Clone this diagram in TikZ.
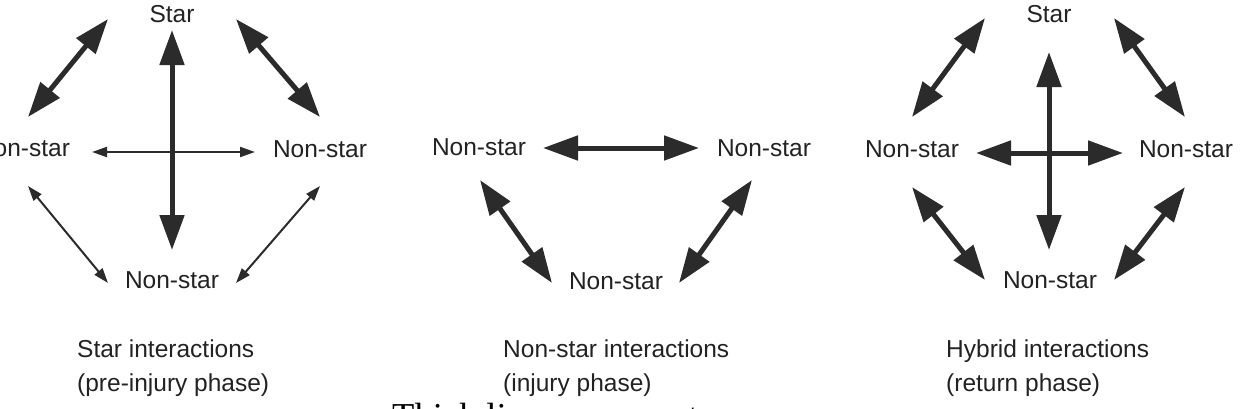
\documentclass[tikz,border=0pt]{standalone}
\usepackage{fontspec}
\setmainfont{Liberation Sans}
\newfontfamily\serifnote{Liberation Serif}
\usetikzlibrary{arrows.meta}
\definecolor{ink}{HTML}{2B2B2B}
\definecolor{txt}{HTML}{222222}
\begin{document}
\begin{tikzpicture}[x=1pt,y=-1pt,
  lbl/.style={inner sep=0pt,anchor=base,text=txt,font=\fontsize{24.5}{28}\selectfont},
  captxt/.style={inner sep=0pt,anchor=base west,text=txt,font=\fontsize{24.5}{28}\selectfont},
  thick arrow/.style={draw=ink,line width=5pt,
    {Triangle[length=35pt,width=24pt]}-{Triangle[length=35pt,width=24pt]}},
  thin arrow/.style={draw=ink,line width=2pt,
    {Triangle[length=15pt,width=10pt]}-{Triangle[length=15pt,width=10pt]}}]
\useasboundingbox (0,0) rectangle (1245,408);

% ---------- left diagram ----------
\node[lbl] (Ls) at (172,22) {Star};
\node[lbl] (Ll) at (23,156) {Non-star};
\node[lbl] (Lr) at (320,157) {Non-star};
\node[lbl] (Lb) at (172,288) {Non-star};
\coordinate (Lv1) at (172,30);  \coordinate (Lv2) at (172,250);
\coordinate (Lh1) at (92,152);  \coordinate (Lh2) at (255,152);
\coordinate (Lul1) at (28,117); \coordinate (Lul2) at (108,19);
\coordinate (Lur1) at (236,19); \coordinate (Lur2) at (320,117);
\coordinate (Lll1) at (28,186); \coordinate (Lll2) at (108,283);
\coordinate (Llr1) at (320,186); \coordinate (Llr2) at (236,283);
\draw[thick arrow] (Lv1) -- (Lv2);
\draw[thin arrow] (Lh1) -- (Lh2);
\draw[thick arrow] (Lul1) -- (Lul2);
\draw[thick arrow] (Lur1) -- (Lur2);
\draw[thin arrow] (Lll1) -- (Lll2);
\draw[thin arrow] (Llr1) -- (Llr2);
\node[captxt] (Lc1) at (77,357) {Star interactions};
\node[captxt] (Lc2) at (77,391) {(pre-injury phase)};

% ---------- middle diagram ----------
\node[lbl] (Ml) at (479,155) {Non-star};
\node[lbl] (Mr) at (764,156) {Non-star};
\node[lbl] (Mb) at (616,289) {Non-star};
\coordinate (Mh1) at (543,148); \coordinate (Mh2) at (699,148);
\coordinate (Mll1) at (480,180); \coordinate (Mll2) at (552,283);
\coordinate (Mlr1) at (752,180); \coordinate (Mlr2) at (679,283);
\draw[thick arrow] (Mh1) -- (Mh2);
\draw[thick arrow] (Mll1) -- (Mll2);
\draw[thick arrow] (Mlr1) -- (Mlr2);
\node[captxt] (Mc1) at (503,357) {Non-star interactions};
\node[captxt] (Mc2) at (503,391) {(injury phase)};

% ---------- right diagram ----------
\node[lbl] (Rs) at (1049,22) {Star};
\node[lbl] (Rl) at (912,157) {Non-star};
\node[lbl] (Rr) at (1186,157) {Non-star};
\node[lbl] (Rb) at (1050,288) {Non-star};
\coordinate (Rv1) at (1049,52);  \coordinate (Rv2) at (1049,250);
\coordinate (Rh1) at (976,153);  \coordinate (Rh2) at (1123,153);
\coordinate (Rul1) at (912,117); \coordinate (Rul2) at (985,18);
\coordinate (Rur1) at (1114,18); \coordinate (Rur2) at (1185,117);
\coordinate (Rll1) at (912,187); \coordinate (Rll2) at (985,280);
\coordinate (Rlr1) at (1185,187); \coordinate (Rlr2) at (1114,280);
\draw[thick arrow] (Rv1) -- (Rv2);
\draw[thick arrow] (Rh1) -- (Rh2);
\draw[thick arrow] (Rul1) -- (Rul2);
\draw[thick arrow] (Rur1) -- (Rur2);
\draw[thick arrow] (Rll1) -- (Rll2);
\draw[thick arrow] (Rlr1) -- (Rlr2);
\node[captxt] (Rc1) at (946,357) {Hybrid interactions};
\node[captxt] (Rc2) at (946,391) {(return phase)};

% ---------- clipped note at bottom ----------
\node[inner sep=0pt,anchor=base west,text=black,font=\serifnote\fontsize{36.5}{40}\selectfont] (note) at (392,428.5) {Thick lines represent};
\end{tikzpicture}
\end{document}
